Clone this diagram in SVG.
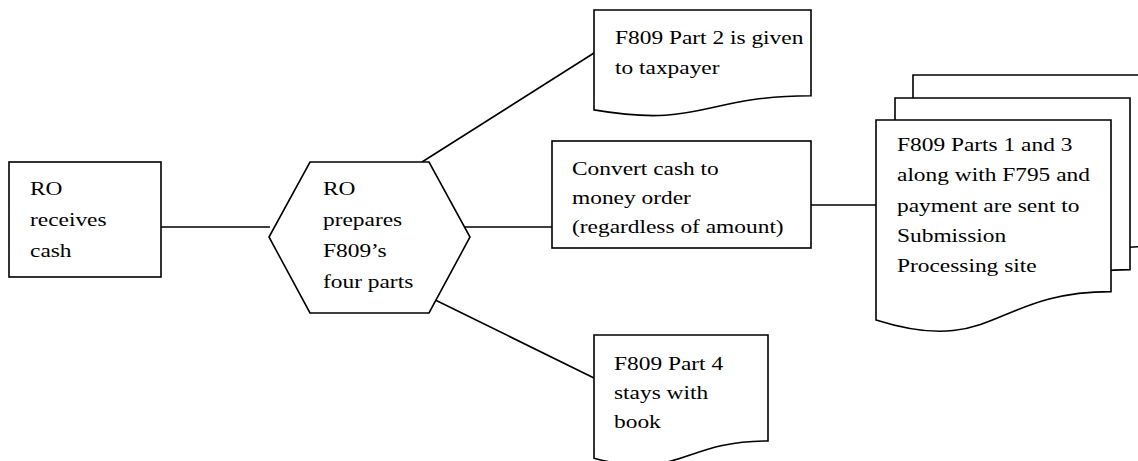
<svg xmlns="http://www.w3.org/2000/svg" width="1138" height="461" viewBox="0 0 1138 461">
<style>
.s{fill:#fff;stroke:#000;stroke-width:1.6}
.c{fill:none;stroke:#000;stroke-width:1.6}
.t{font-family:"Liberation Serif","Times New Roman",serif;font-size:18px;fill:#000}
</style>
<rect width="1138" height="461" fill="#fff"/>
<g id="connectors">
<line class="c" x1="161" y1="227" x2="270" y2="227"/>
<line class="c" x1="465" y1="227" x2="552" y2="227"/>
<line class="c" x1="811" y1="205" x2="876" y2="205"/>
<line class="c" x1="422" y1="162" x2="594" y2="53"/>
<line class="c" x1="421" y1="293" x2="594" y2="378"/>
</g>
<g id="receives-cash">
<rect class="s" x="9" y="162" width="152" height="115"/>
<text class="t" transform="matrix(1.3,0,0,1,30,195)"><tspan x="0" y="0">RO</tspan><tspan x="0" y="31">receives</tspan><tspan x="0" y="62">cash</tspan></text>
</g>
<g id="prepares">
<polygon class="s" points="310,162 429,162 470,237 429,313 310,313 269,237"/>
<text class="t" transform="matrix(1.3,0,0,1,323,195)"><tspan x="0" y="0">RO</tspan><tspan x="0" y="31">prepares</tspan><tspan x="0" y="62">F809’s</tspan><tspan x="0" y="93">four parts</tspan></text>
</g>
<g id="convert">
<rect class="s" x="552" y="141" width="259" height="107"/>
<text class="t" transform="matrix(1.3,0,0,1,572,175)"><tspan x="0" y="0">Convert cash to</tspan><tspan x="0" y="29">money order</tspan><tspan x="0" y="58">(regardless of amount)</tspan></text>
</g>
<g id="part2">
<path class="s" d="M594,10 H811 V95.8 C702.5,95.8 702.5,128.5 594,109.9 Z"/>
<text class="t" transform="matrix(1.3,0,0,1,615,44)"><tspan x="0" y="0">F809 Part 2 is given</tspan><tspan x="0" y="30">to taxpayer</tspan></text>
</g>
<g id="parts-1-3">
<path class="s" d="M913,75 H1148 V246.6 C1030.5,246.6 1030.5,312 913,274.9 Z"/>
<path class="s" d="M895,98 H1130 V269.6 C1012.5,269.6 1012.5,335 895,297.9 Z"/>
<path class="s" d="M876,120 H1111 V291.6 C993.5,291.6 993.5,357 876,319.9 Z"/>
<text class="t" transform="matrix(1.3,0,0,1,897,151)"><tspan x="0" y="0">F809 Parts 1 and 3</tspan><tspan x="0" y="30.5">along with F795 and</tspan><tspan x="0" y="61">payment are sent to</tspan><tspan x="0" y="91">Submission</tspan><tspan x="0" y="121.5">Processing site</tspan></text>
</g>
<g id="part4">
<path class="s" d="M594,335 H768 V440.9 C681,440.9 681,481.2 594,458.3 Z"/>
<text class="t" transform="matrix(1.3,0,0,1,614,370)"><tspan x="0" y="0">F809 Part 4</tspan><tspan x="0" y="29">stays with</tspan><tspan x="0" y="58">book</tspan></text>
</g>
</svg>
